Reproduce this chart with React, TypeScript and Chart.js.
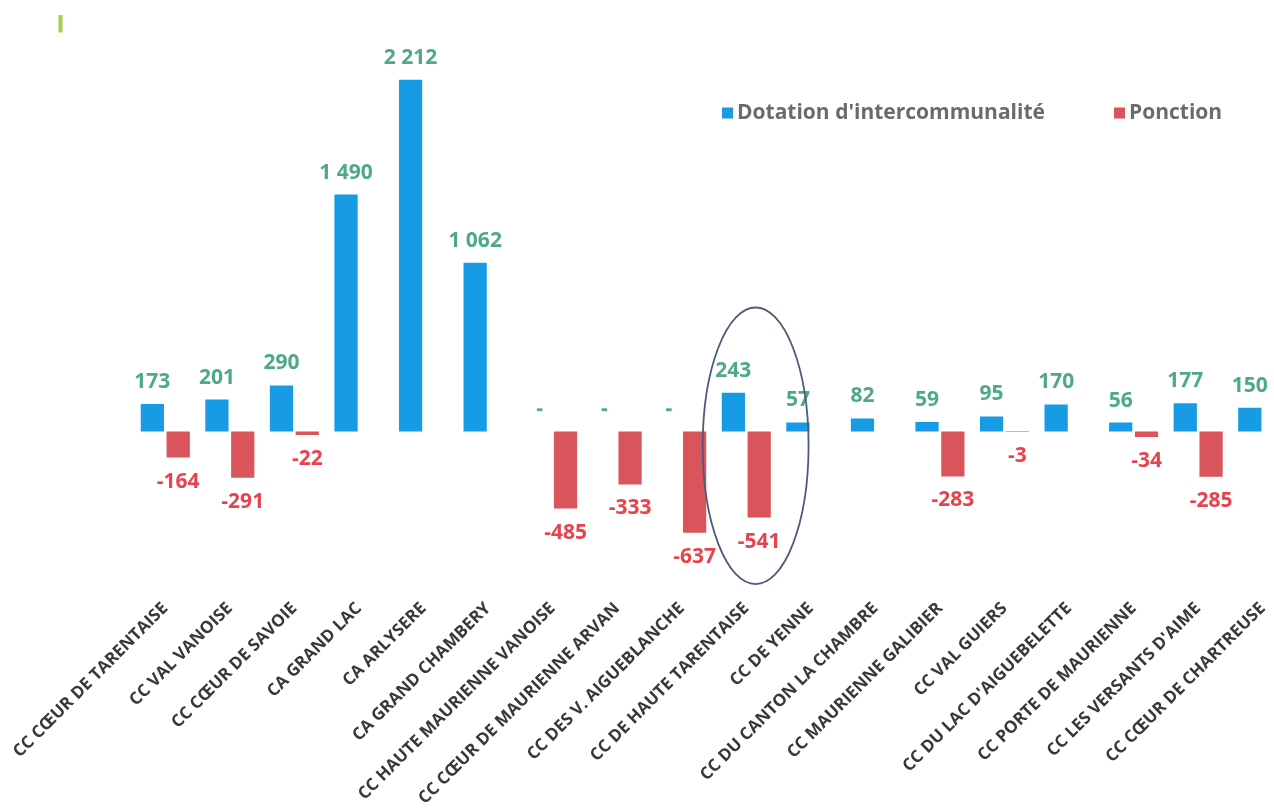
import React, { useEffect, useRef } from 'react';
import { Chart, registerables } from 'chart.js';

Chart.register(...registerables);

const categories = [
  'CC CŒUR DE TARENTAISE',
  'CC VAL VANOISE',
  'CC CŒUR DE SAVOIE',
  'CA GRAND LAC',
  'CA ARLYSERE',
  'CA GRAND CHAMBERY',
  'CC HAUTE MAURIENNE VANOISE',
  'CC CŒUR DE MAURIENNE ARVAN',
  'CC DES V. AIGUEBLANCHE',
  'CC DE HAUTE TARENTAISE',
  'CC DE YENNE',
  'CC DU CANTON LA CHAMBRE',
  'CC MAURIENNE GALIBIER',
  'CC VAL GUIERS',
  "CC DU LAC D'AIGUEBELETTE",
  'CC PORTE DE MAURIENNE',
  "CC LES VERSANTS D'AIME",
  'CC CŒUR DE CHARTREUSE',
];

const dotation = [173, 201, 290, 1490, 2212, 1062, 0, 0, 0, 243, 57, 82, 59, 95, 170, 56, 177, 150];
const ponction: (number | null)[] = [-164, -291, -22, null, null, null, -485, -333, -637, -541, null, null, -283, -3, null, -34, -285, null];

const seriesNames = ["Dotation d'intercommunalité", 'Ponction'];
const yMin = -1000;
const yMax = 2500;

const BLUE = '#169be4';
const RED = '#d9545b';
const RED_TEXT = '#e8434c';
const GREEN_TEXT = '#4daa85';

function fmt(v: number): string {
  const s = Math.abs(v).toString().replace(/\B(?=(\d{3})+(?!\d))/g, ' ');
  return (v < 0 ? '-' : '') + s;
}

const valueLabels = {
  id: 'valueLabels',
  afterDatasetsDraw(chart: any) {
    const ctx = chart.ctx;
    ctx.save();
    ctx.font = 'bold 21px "Open Sans"';
    ctx.textAlign = 'center';
    ctx.textBaseline = 'middle';
    chart.data.datasets.forEach((ds: any, di: number) => {
      const meta = chart.getDatasetMeta(di);
      meta.data.forEach((bar: any, i: number) => {
        const v = ds.data[i];
        if (v === null || v === undefined) return;
        if (di === 0) {
          ctx.fillStyle = GREEN_TEXT;
          ctx.fillText(v === 0 ? '-' : fmt(v), bar.x, bar.y - 22);
        } else {
          ctx.fillStyle = RED_TEXT;
          ctx.fillText(fmt(v), bar.x, bar.y + 24);
        }
      });
    });
    ctx.restore();
  },
};

const decorations = {
  id: 'decorations',
  afterDatasetsDraw(chart: any) {
    const ctx = chart.ctx;
    const xs = chart.scales.x;
    const ys = chart.scales.y;
    const cat = xs.getPixelForValue(1) - xs.getPixelForValue(0);
    // ellipse around CC DE HAUTE TARENTAISE
    const cx = xs.getPixelForValue(9) + 0.145 * cat;
    const cy = ys.getPixelForValue(-90);
    const rx = 0.82 * cat;
    const ry = Math.abs(ys.getPixelForValue(0) - ys.getPixelForValue(870));
    ctx.save();
    ctx.strokeStyle = '#4d5a78';
    ctx.lineWidth = 1.8;
    ctx.beginPath();
    ctx.ellipse(cx, cy, rx, ry, 0, 0, Math.PI * 2);
    ctx.stroke();

    // small green mark top-left
    ctx.fillStyle = '#a5cf4c';
    ctx.fillRect(58.5, 15, 4, 17.5);

    // legend
    ctx.font = 'bold 21px "Open Sans"';
    ctx.textBaseline = 'middle';
    ctx.textAlign = 'left';
    const items = [
      { label: chart.data.datasets[0].label, color: BLUE, x: 722 },
      { label: chart.data.datasets[1].label, color: RED, x: 1114 },
    ];
    items.forEach((it) => {
      ctx.fillStyle = it.color;
      ctx.fillRect(it.x, 107.5, 11, 11);
      ctx.fillStyle = '#6b6b6b';
      ctx.fillText(it.label, it.x + 15, 113);
    });
    ctx.restore();
  },
};

export default function App() {
  const ref = useRef<HTMLCanvasElement | null>(null);
  useEffect(() => {
    if (!ref.current) return;
    const chart = new Chart(ref.current, {
      type: 'bar',
      data: {
        labels: categories,
        datasets: [
          { label: seriesNames[0], data: dotation, backgroundColor: BLUE },
          { label: seriesNames[1], data: ponction as any, backgroundColor: RED },
        ],
      },
      options: {
        responsive: false,
        animation: false,
        layout: { padding: { left: 133, right: 5, top: 34, bottom: 0 } },
        plugins: { legend: { display: false }, tooltip: { enabled: false } },
        scales: {
          x: {
            grid: { display: false, drawTicks: false },
            border: { display: false },
            ticks: {
              autoSkip: false,
              minRotation: 45,
              maxRotation: 45,
              padding: 8,
              color: '#383838',
              font: { family: '"Open Sans"', weight: 'bold', size: 17 },
            },
            afterFit: (s: any) => {
              s.height = 810 - 590.5;
              s.paddingLeft = 0;
              s.paddingRight = 0;
            },
          },
          y: { display: false, min: yMin, max: yMax },
        },
      } as any,
      plugins: [valueLabels, decorations],
    });
    return () => chart.destroy();
  }, []);
  return (
    <div style={{ position: 'fixed', left: 0, top: 0, width: 1274, height: 810, overflow: 'hidden', background: '#fff' }}>
      <canvas ref={ref} width={1300} height={810} style={{ display: 'block' }} />
    </div>
  );
}
